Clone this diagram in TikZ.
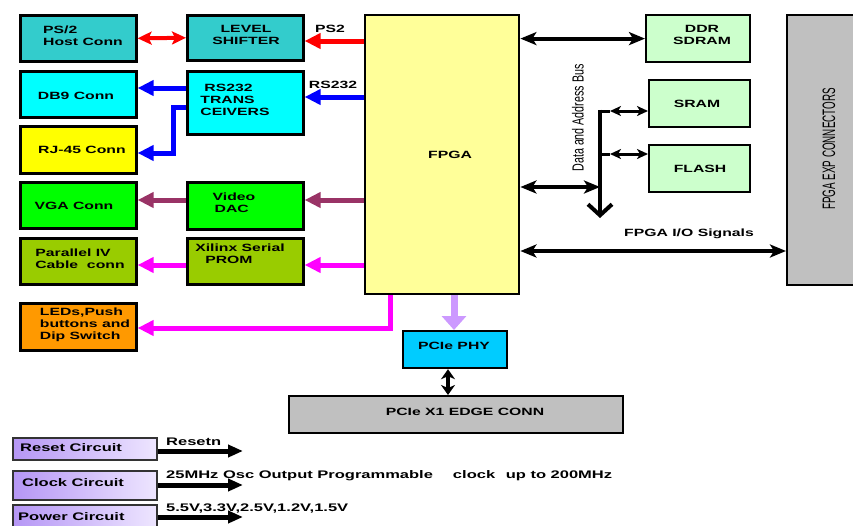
\documentclass[tikz,border=0pt]{standalone}
\usepackage{fontspec}
\setmainfont{Liberation Sans}[FakeStretch=1.5]
\newfontfamily\condfont{Liberation Sans}
\usetikzlibrary{arrows.meta,calc}
\definecolor{cteal}{HTML}{33CCCC}
\definecolor{ccyan}{HTML}{00FFFF}
\definecolor{cyellow}{HTML}{FFFF00}
\definecolor{cgreen}{HTML}{00FF00}
\definecolor{colive}{HTML}{99CC00}
\definecolor{corange}{HTML}{FF9900}
\definecolor{cfpga}{HTML}{FFFF99}
\definecolor{clgreen}{HTML}{CCFFCC}
\definecolor{cgray}{HTML}{C0C0C0}
\definecolor{cphy}{HTML}{00CCFF}
\definecolor{cred}{HTML}{FF0000}
\definecolor{cblue}{HTML}{0000FF}
\definecolor{cpurp}{HTML}{993366}
\definecolor{cmag}{HTML}{FF00FF}
\definecolor{clav}{HTML}{CC99FF}
\definecolor{clavL}{HTML}{B596F5}
\definecolor{clavR}{HTML}{EEE6FF}
\begin{document}
\begin{tikzpicture}[x=1pt,y=-1pt,
  box/.style={draw=black, line width=2.6pt, anchor=north west, inner sep=0pt},
  gbox/.style={draw=black, line width=2pt, anchor=north west, inner sep=0pt, fill=cgray},
  cbox/.style={draw=black!80, line width=2pt, anchor=north west, inner sep=0pt, left color=clavL, right color=clavR},
  txt/.style={font=\fontsize{10.5}{12}\selectfont\bfseries, inner sep=0pt, align=left},
  ctxt/.style={font=\fontsize{10.5}{12}\selectfont\bfseries, inner sep=0pt, align=center},
  btxt/.style={font=\fontsize{11}{12}\selectfont\bfseries, inner sep=0pt, align=left},
  ltxt/.style={font=\fontsize{11}{12}\selectfont\bfseries, inner sep=0pt, anchor=west},
  carr/.style={line width=5pt, -{Triangle[length=16pt,width=15pt]}},
  blkdbl/.style={line width=4pt, {Stealth[length=16pt,width=13pt,inset=4pt]}-{Stealth[length=16pt,width=13pt,inset=4pt]}},
  smalldbl/.style={line width=3pt, {Stealth[length=11pt,width=10pt,inset=3pt]}-{Stealth[length=11pt,width=10pt,inset=3pt]}},
  botarr/.style={line width=5pt, -{Triangle[length=15pt,width=12pt]}}
]
\useasboundingbox (0,0) rectangle (853,525);

% boxes
\node[box, fill=cteal, minimum width=116pt, minimum height=46pt] (ps2) at (19,14) {};
\node[box, fill=cteal, minimum width=116pt, minimum height=45pt] (ls) at (186,14) {};
\node[box, fill=ccyan, minimum width=116pt, minimum height=46pt] (db9) at (19,70) {};
\node[box, fill=ccyan, minimum width=116pt, minimum height=63pt] (rs) at (186,70) {};
\node[box, fill=cyellow, minimum width=116pt, minimum height=47pt] (rj45) at (19,125) {};
\node[box, fill=cgreen, minimum width=116pt, minimum height=46pt] (vga) at (19,181) {};
\node[box, fill=cgreen, minimum width=116pt, minimum height=47pt] (dac) at (186,181) {};
\node[box, fill=colive, minimum width=116pt, minimum height=46pt] (par) at (19,237) {};
\node[box, fill=colive, minimum width=116pt, minimum height=46pt] (prom) at (186,237) {};
\node[box, fill=corange, minimum width=116pt, minimum height=47pt] (led) at (19,302) {};
\node[box, fill=cfpga, line width=2.4pt, minimum width=154pt, minimum height=279pt] (fpga) at (364,14) {};
\node[box, fill=clgreen, line width=2.2pt, minimum width=104pt, minimum height=47pt] (ddr) at (645,14) {};
\node[box, fill=clgreen, line width=2.2pt, minimum width=101pt, minimum height=47pt] (sram) at (648,79) {};
\node[box, fill=clgreen, line width=2.2pt, minimum width=101pt, minimum height=47pt] (flash) at (648,144) {};
\node[gbox, minimum width=80pt, minimum height=270pt] (exp) at (786,14) {};
\node[box, fill=cphy, line width=2.2pt, minimum width=104pt, minimum height=37pt] (phy) at (402,330) {};
\node[gbox, minimum width=334pt, minimum height=37pt] (edge) at (288,395) {};
\node[cbox, minimum width=144pt, minimum height=22pt] (reset) at (12,437) {};
\node[cbox, minimum width=144pt, minimum height=29pt] (clock) at (12,470) {};
\node[cbox, minimum width=144pt, minimum height=30pt] (power) at (12,504) {};

% box texts
\node[txt] (ps2t) at (83,36) {PS/2\\Host Conn};
\node[ctxt] (lst) at (246,35) {LEVEL\\SHIFTER};
\node[txt] (db9t) at (76,96) {DB9 Conn};
\node[txt] (rst) at (235,100) {\hspace{4pt}RS232\\TRANS\\CEIVERS};
\node[txt] (rj45t) at (82,150) {RJ-45 Conn};
\node[txt] (vgat) at (74,206) {VGA Conn};
\node[txt] (dact) at (234,203) {\hspace{0pt}Video\\\hspace{2pt}DAC};
\node[txt] (part) at (80,259) {Parallel IV\\Cable \ conn};
\node[txt] (promt) at (240,254) {Xilinx Serial\\\hspace{10pt}PROM};
\node[txt] (ledt) at (85,325) {LEDs,Push\\buttons and\\Dip Switch};
\node[txt] (fpgat) at (450,155) {FPGA};
\node[ctxt] (ddrt) at (702,35) {DDR\\SDRAM};
\node[txt] (sramt) at (697,104) {SRAM};
\node[txt] (flasht) at (700,169) {FLASH};
\node[txt] (phyt) at (454,346) {PCIe PHY};
\node[txt] (edget) at (465,412) {PCIe X1 EDGE CONN};
\node[btxt, anchor=west] (resett) at (20,448) {Reset Circuit};
\node[btxt, anchor=west] (clockt) at (22,483) {Clock Circuit};
\node[btxt, anchor=west] (powert) at (18,517) {Power Circuit};
\node[rotate=90, inner sep=0pt, font=\condfont\fontsize{10.7}{12}\selectfont] (busl) at (578,118) {\scalebox{1}[1.5]{Data and Address Bus}};
\node[rotate=90, inner sep=0pt, font=\condfont\fontsize{12}{14}\selectfont] (expt) at (829,149) {\scalebox{0.82}[1.5]{FPGA EXP CONNECTORS}};

% connector labels
\node[txt] (ps2l) at (330,29) {PS2};
\node[txt] (rs232l) at (333,85) {RS232};
\node[txt] (iol) at (689,234) {FPGA I/O Signals};
\node[ltxt] (resetl) at (166,442) {Resetn};
\node[ltxt] (clockl) at (166,476) {25MHz Osc Output Programmable\hspace{20pt}clock\hspace{6pt} up to 200MHz};
\node[ltxt] (powerl) at (166,509) {5.5V,3.3V,2.5V,1.2V,1.5V};

% helper coordinates
\coordinate (yps) at (0,41);
\coordinate (yrs) at (0,97);
\coordinate (ydb) at (0,88);
\coordinate (yrj) at (0,107);
\coordinate (yrj2) at (0,153);
\coordinate (xrj) at (173,0);
\coordinate (yvid) at (0,200);
\coordinate (ypr) at (0,265);
\coordinate (yled) at (0,328);
\coordinate (xm) at (390,0);
\coordinate (xl) at (454,0);
\coordinate (xp) at (448,0);
\coordinate (ybus) at (0,187);
\coordinate (yio) at (0,251);
\coordinate (bustop) at (600,109.5);
\coordinate (busend) at (600,218);
\coordinate (xbr) at (610,0);
\coordinate (ysr) at (0,111);
\coordinate (yfl) at (0,154);
\coordinate (resetend) at (243,451);
\coordinate (clockend) at (243,485);
\coordinate (powerend) at (243,517);

% red
\draw[carr, draw=cred, fill=cred] (fpga.west |- yps) -- (ls.east |- yps);
\draw[line width=4pt, draw=cred, {Stealth[length=14pt,width=13pt,inset=3pt]}-{Stealth[length=14pt,width=13pt,inset=3pt]}] (ps2.east) -- (ls.west);
% blue
\draw[carr, draw=cblue] (fpga.west |- yrs) -- (rs.east |- yrs);
\draw[carr, draw=cblue] (rs.west |- ydb) -- (db9.east |- ydb);
\draw[carr, draw=cblue] (rs.west |- yrj) -- (xrj |- yrj) -- (xrj |- yrj2) -- (rj45.east |- yrj2);
% purple
\draw[carr, draw=cpurp] (fpga.west |- yvid) -- (dac.east |- yvid);
\draw[carr, draw=cpurp] (dac.west |- yvid) -- (vga.east |- yvid);
% magenta
\draw[carr, draw=cmag] (fpga.west |- ypr) -- (prom.east |- ypr);
\draw[carr, draw=cmag] (prom.west |- ypr) -- (par.east |- ypr);
\draw[carr, draw=cmag] (fpga.south -| xm) -- (xm |- yled) -- (led.east |- yled);
% lavender
\draw[line width=7pt, draw=clav, -{Triangle[length=14pt,width=24pt]}] (fpga.south -| xl) -- (phy.north -| xl);
% black
\draw[blkdbl] (fpga.east |- ddr.west) -- (ddr.west);
\draw[blkdbl] (fpga.east |- ybus) -- (bustop |- ybus);
\draw[line width=4pt, -{Straight Barb[length=11pt,width=24pt]}] (bustop) -- (busend);
\draw[line width=3pt] (bustop |- ysr) -- (xbr |- ysr);
\draw[smalldbl] (xbr |- ysr) -- (sram.west |- ysr);
\draw[line width=3pt] (bustop |- yfl) -- (xbr |- yfl);
\draw[smalldbl] (xbr |- yfl) -- (flash.west |- yfl);
\draw[blkdbl] (fpga.east |- yio) -- (exp.west |- yio);
\draw[line width=4pt, {Stealth[length=10pt,width=14pt,inset=3pt]}-{Stealth[length=10pt,width=14pt,inset=3pt]}] (phy.south -| xp) -- (edge.north -| xp);
% bottom
\draw[botarr] (reset.east |- resetend) -- (resetend);
\draw[botarr] (clock.east |- clockend) -- (clockend);
\draw[botarr] (power.east |- powerend) -- (powerend);
\end{tikzpicture}
\end{document}
